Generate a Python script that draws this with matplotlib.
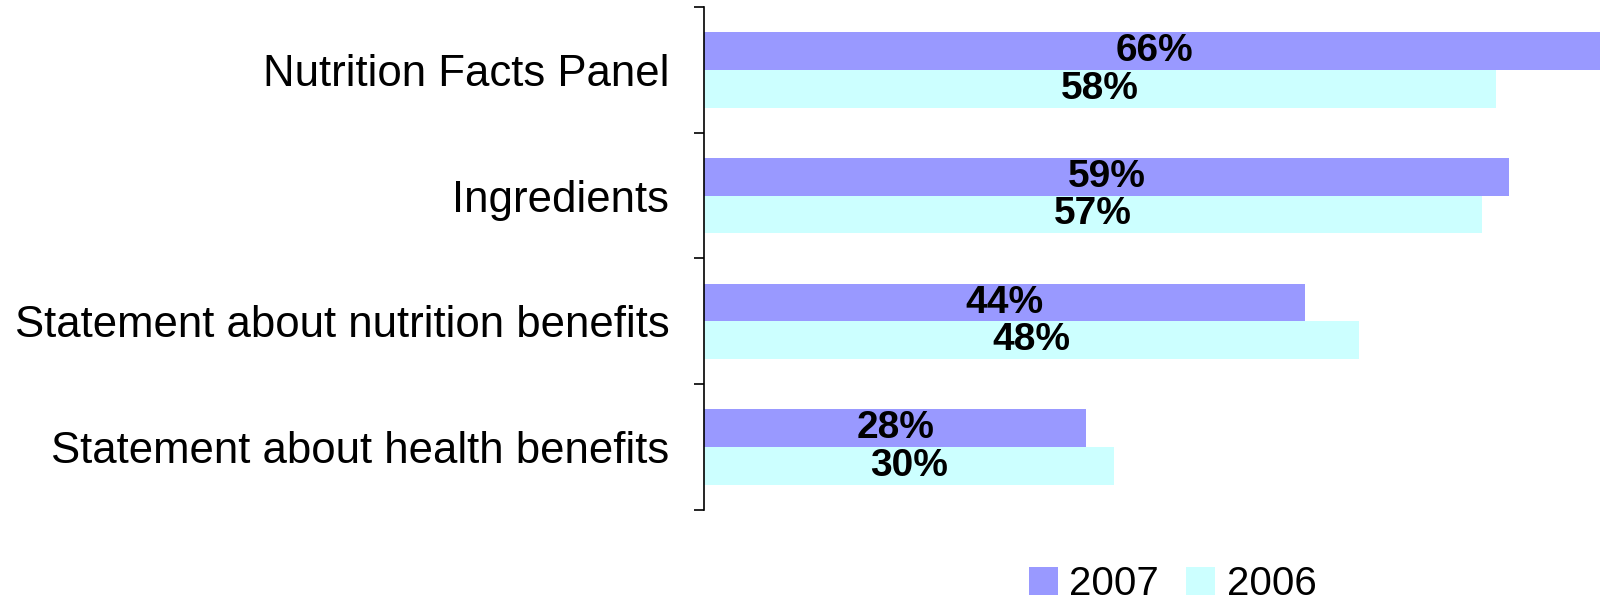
import numpy as np
import matplotlib.pyplot as plt

plt.rcParams['font.family'] = ['Liberation Sans', 'DejaVu Sans']

# data
categories = ["Nutrition Facts Panel", "Ingredients",
              "Statement about nutrition benefits", "Statement about health benefits"]
years = ["2007", "2006"]
vals_2007 = [66, 59, 44, 28]
vals_2006 = [58, 57, 48, 30]
colors = ["#9999FF", "#CCFFFF"]

fig = plt.figure(figsize=(16, 6.02), dpi=100)
ax = fig.add_axes([0.44, 0.1528, 0.56, 0.8356])

y = np.arange(len(categories))
h = 0.3
bars1 = ax.barh(y - h / 2, vals_2007, height=h, color=colors[0], label=years[0])
bars2 = ax.barh(y + h / 2, vals_2006, height=h, color=colors[1], label=years[1])

# labels centred on each bar
for bars, vals in [(bars1, vals_2007), (bars2, vals_2006)]:
    for b, v in zip(bars, vals):
        ax.text(v / 2, b.get_y() + b.get_height() / 2, f"{v}%",
                ha="center", va="center", fontsize=28, fontweight="bold")

ax.set_xlim(0, 65.64)
ax.set_ylim(len(categories) - 0.5, -0.5)

ax.set_yticks(y)
ax.set_yticklabels(categories, fontsize=31.5)
ax.tick_params(axis="y", which="major", length=0, pad=25)
ax.set_yticks(np.arange(len(categories) + 1) - 0.5, minor=True)
ax.tick_params(axis="y", which="minor", length=7, width=1.2, direction="out")
ax.set_xticks([])

for s in ["top", "right", "bottom"]:
    ax.spines[s].set_visible(False)
ax.spines["left"].set_linewidth(1.2)

fig.legend(loc="center left", bbox_to_anchor=(0.643, 0.03), ncol=2, frameon=False,
           fontsize=29, borderpad=0, borderaxespad=0, handlelength=0.72,
           handleheight=0.72, handletextpad=0.29, columnspacing=0.67)

fig.savefig("out.png", dpi=100)
